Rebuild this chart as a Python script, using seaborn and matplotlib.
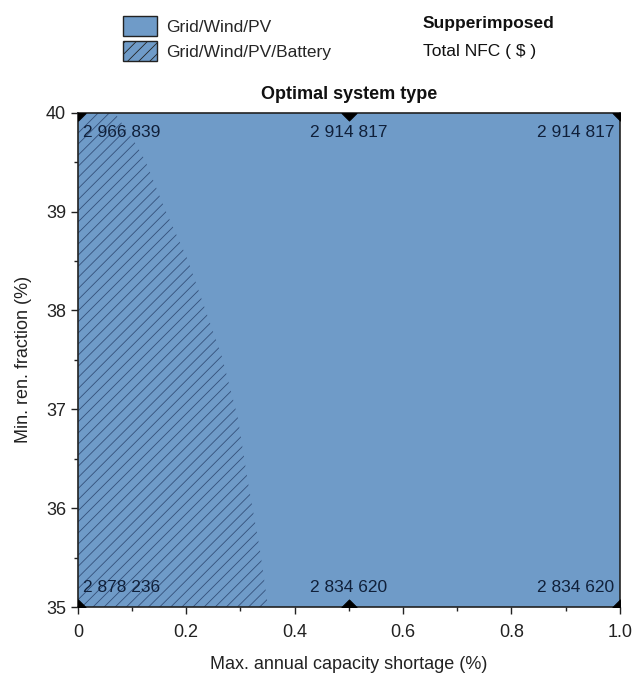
import matplotlib
matplotlib.use("Agg")
import matplotlib.pyplot as plt
import seaborn as sns
import pandas as pd
from matplotlib.patches import Patch
import matplotlib.ticker as mticker

sns.set_theme(style="ticks")
plt.rcParams['font.family'] = ['Liberation Sans', 'DejaVu Sans']
plt.rcParams['hatch.linewidth'] = 0.6

# Data
shortage = [0.0, 0.5, 1.0, 0.0, 0.5, 1.0]
ren_frac = [40, 40, 40, 35, 35, 35]
nfc_labels = ["2 966 839", "2 914 817", "2 914 817", "2 878 236", "2 834 620", "2 834 620"]
# Boundary of Grid/Wind/PV/Battery region (x at given y)
bnd_y = [40.0, 39.70, 39.52, 39.02, 38.51, 37.53, 36.92, 36.26, 35.58, 35.0]
bnd_x = [0.068, 0.105, 0.124, 0.161, 0.203, 0.266, 0.295, 0.314, 0.336, 0.351]

base_color = '#6f9bc8'
hatch_color = '#34507a'

fig = plt.figure(figsize=(6.33, 6.79), dpi=100)
ax = fig.add_axes([0.123, 0.106, 0.856, 0.728])
ax.set_facecolor(base_color)

# Battery hatched region
poly_x = [0.0] + bnd_x + [0.0]
poly_y = [40.0] + bnd_y + [35.0]
ax.fill(poly_x, poly_y, facecolor=base_color, edgecolor=hatch_color, linewidth=0,
        hatch='///', zorder=1)

df = pd.DataFrame({"x": shortage, "y": ren_frac, "label": nfc_labels})
sns.scatterplot(data=df, x="x", y="y", marker="D", s=60, color="black",
                edgecolor="black", ax=ax, zorder=5, clip_on=True, legend=False)

for _, r in df.iterrows():
    dy = -0.12 if r.y == 40 else 0.12
    va = 'top' if r.y == 40 else 'bottom'
    if r.x == 0:
        ha, xx = 'left', r.x + 0.01
    elif r.x == 1.0:
        ha, xx = 'right', r.x - 0.01
    else:
        ha, xx = 'center', r.x
    ax.text(xx, r.y + dy, r.label, ha=ha, va=va, fontsize=12.5, color='#10203a', zorder=6)

ax.set_xlim(0, 1.0)
ax.set_ylim(35, 40)
ax.xaxis.set_minor_locator(mticker.MultipleLocator(0.1))
ax.yaxis.set_major_locator(mticker.MultipleLocator(1))
ax.yaxis.set_minor_locator(mticker.MultipleLocator(0.5))
ax.set_xticks([0, 0.2, 0.4, 0.6, 0.8, 1.0])
ax.set_xticklabels(["0", "0.2", "0.4", "0.6", "0.8", "1.0"])
ax.tick_params(axis='both', which='major', labelsize=13, length=5, width=1, direction='out',
               colors='#222222', labelcolor='#222222')
ax.tick_params(axis='x', which='major', pad=7)
ax.tick_params(axis='both', which='minor', length=3, width=1, direction='out', colors='#222222')
for s in ax.spines.values():
    s.set_color('#222222')
    s.set_linewidth(1.2)

ax.set_xlabel("Max. annual capacity shortage (%)", fontsize=13, color='#222222', labelpad=11)
ax.set_ylabel("Min. ren. fraction (%)", fontsize=13, color='#222222', labelpad=10)
ax.set_title("Optimal system type", fontsize=13, fontweight='bold', color='#111111', pad=10)

handles = [Patch(facecolor=base_color, edgecolor='#222222', label='Grid/Wind/PV'),
           Patch(facecolor=base_color, edgecolor='#222222', hatch='///', label='Grid/Wind/PV/Battery')]
fig.legend(handles=handles, loc='upper left', bbox_to_anchor=(0.172, 0.997), frameon=False,
           fontsize=12.5, handlelength=2.0, handleheight=1.4, handletextpad=0.5, labelspacing=0.3,
           borderpad=0.3)

fig.text(0.668, 0.965, "Supperimposed", fontsize=12.5, fontweight='bold', color='#111111', va='center')
fig.text(0.668, 0.924, "Total NFC ( $ )", fontsize=12.5, color='#111111', va='center')

fig.savefig("out.png", dpi=100)
